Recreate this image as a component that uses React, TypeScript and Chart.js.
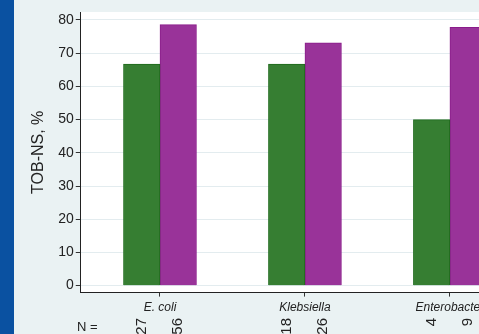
import React, { useEffect, useRef } from "react";
import { Chart, registerables } from "chart.js";

Chart.register(...registerables);

// Organisms on the x axis, and the share of TOB-NS isolates (%) per group
const categories = ["E. coli", "Klebsiella", "Enterobacter"];
const groupA = [66.7, 66.7, 50.0];
const groupB = [78.6, 73.1, 77.8];
// Isolate counts written under each bar
const countsA = [27, 18, 4];
const countsB = [56, 26, 9];
const yTicks = [0, 10, 20, 30, 40, 50, 60, 70, 80];

const FONT = "'Liberation Sans', Arial, Helvetica, sans-serif";
const TEXT = "#222222";
const PAGE_BG = "#EAF2F3";
const SIDE_BLUE = "#0A51A1";

const backdrop = {
  id: "backdrop",
  beforeDraw(chart: any) {
    const { ctx, chartArea, width, height } = chart;
    ctx.save();
    ctx.fillStyle = PAGE_BG;
    ctx.fillRect(0, 0, width, height);
    ctx.fillStyle = SIDE_BLUE;
    ctx.fillRect(0, 0, 14, height);
    ctx.fillStyle = "#FFFFFF";
    ctx.fillRect(chartArea.left, chartArea.top, chartArea.right - chartArea.left, chartArea.bottom - chartArea.top);
    ctx.restore();
  },
};

const countLabels = {
  id: "countLabels",
  afterDraw(chart: any) {
    const { ctx } = chart;
    ctx.save();
    ctx.fillStyle = TEXT;
    ctx.font = `13px ${FONT}`;
    ctx.textAlign = "left";
    ctx.textBaseline = "middle";
    ctx.fillText("N =", 77, 327);
    ctx.font = `15px ${FONT}`;
    const sets = [countsA, countsB];
    sets.forEach((counts, d) => {
      const meta = chart.getDatasetMeta(d);
      meta.data.forEach((el: any, i: number) => {
        ctx.save();
        ctx.translate(el.x, 318);
        ctx.rotate(-Math.PI / 2);
        ctx.textAlign = "right";
        ctx.textBaseline = "middle";
        ctx.fillText(String(counts[i]), 0, 0);
        ctx.restore();
      });
    });
    ctx.restore();
  },
};

export default function App() {
  const canvasRef = useRef<HTMLCanvasElement | null>(null);

  useEffect(() => {
    const canvas = canvasRef.current;
    if (!canvas) return;
    const chart = new Chart(canvas, {
      type: "bar",
      data: {
        datasets: [
          {
            label: "A",
            data: categories.map((_, i) => ({ x: i, y: groupA[i] })),
            backgroundColor: "#367E32",
            borderColor: "#1F6A1C",
            borderWidth: 1,
            barThickness: 36.5,
          },
          {
            label: "B",
            data: categories.map((_, i) => ({ x: i, y: groupB[i] })),
            backgroundColor: "#993399",
            borderColor: "#8A1C8A",
            borderWidth: 1,
            barThickness: 36.5,
          },
        ],
      },
      options: {
        responsive: false,
        animation: false,
        devicePixelRatio: 1,
        layout: { padding: { left: 29, top: 12, bottom: 15, right: 0 } },
        plugins: {
          legend: { display: false },
          tooltip: { enabled: false },
        },
        scales: {
          x: {
            type: "linear",
            offset: false,
            min: -0.5464,
            max: 2.7595,
            afterBuildTicks: (scale: any) => {
              scale.ticks = categories.map((_, i) => ({ value: i }));
            },
            ticks: {
              autoSkip: false,
              maxRotation: 0,
              padding: 4,
              color: TEXT,
              font: { family: FONT, size: 12, style: "italic" },
              callback: (v: any) => categories[v] ?? "",
            },
            grid: {
              offset: false,
              drawOnChartArea: false,
              drawTicks: true,
              tickLength: 4,
              tickColor: "#333333",
            },
            border: { display: true, color: "#222222", width: 1 },
          },
          y: {
            min: -2.1,
            max: 82.4,
            afterBuildTicks: (scale: any) => {
              scale.ticks = yTicks.map((v) => ({ value: v }));
            },
            ticks: {
              padding: 2,
              color: TEXT,
              font: { family: FONT, size: 14 },
            },
            grid: {
              color: "#E3ECEF",
              lineWidth: 1,
              drawTicks: true,
              tickLength: 5,
              tickColor: "#333333",
            },
            border: { display: true, color: "#222222", width: 1 },
            title: {
              display: true,
              text: "TOB-NS, %",
              color: TEXT,
              font: { family: FONT, size: 16 },
              padding: { top: 0, bottom: 8 },
            },
          },
        },
      },
      plugins: [backdrop, countLabels],
    });
    return () => chart.destroy();
  }, []);

  return (
    <div
      style={{
        position: "fixed",
        left: 0,
        top: 0,
        width: 479,
        height: 334,
        overflow: "hidden",
        background: PAGE_BG,
      }}
    >
      <canvas ref={canvasRef} width={560} height={334} style={{ display: "block" }} />
    </div>
  );
}
